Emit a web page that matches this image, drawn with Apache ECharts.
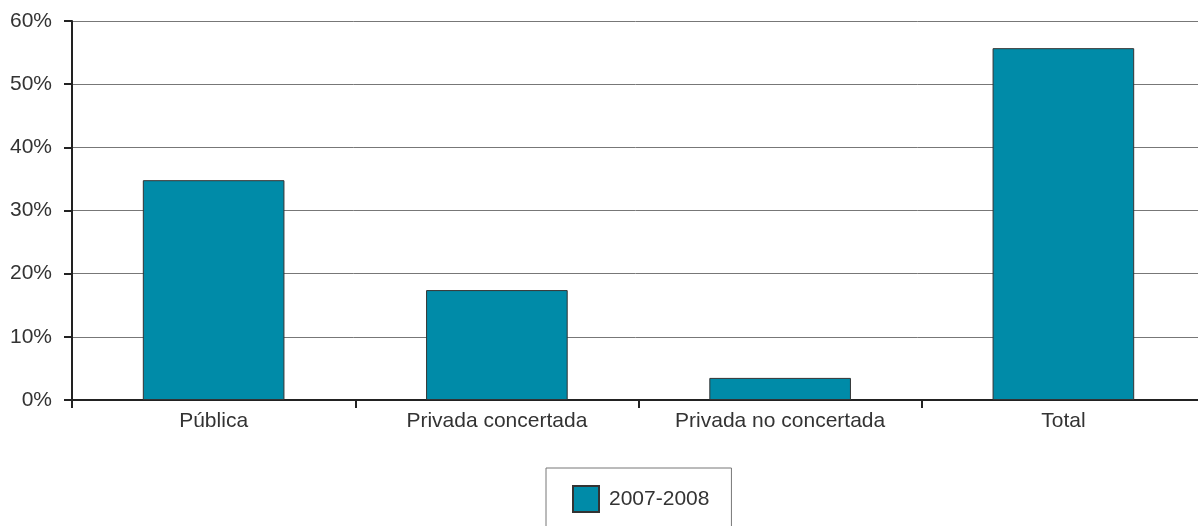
<!DOCTYPE html>
<html>
<head>
<meta charset="utf-8">
<script src="https://cdn.jsdelivr.net/npm/echarts@6/dist/echarts.min.js"></script>
<style>
html,body{margin:0;padding:0;background:#fff;}
#chart{width:1198px;height:526px;}
</style>
</head>
<body>
<div id="chart"></div>
<script>
const categories = ['Pública', 'Privada concertada', 'Privada no concertada', 'Total'];
const seriesName = '2007-2008';
const values = [34.8, 17.4, 3.5, 55.7];
const yTicks = [0, 10, 20, 30, 40, 50, 60];

const chart = echarts.init(document.getElementById('chart'), null, {renderer: 'canvas'});
const font = 'Liberation Sans, Helvetica, Arial, sans-serif';
chart.setOption({
  animation: false,
  textStyle: {fontFamily: font},
  grid: {left: 72, top: 21, width: 1133, height: 379, containLabel: false, outerBoundsMode: 'none'},
  legend: {
    data: [seriesName],
    left: 546, top: 468,
    padding: [17, 22, 30, 26],
    itemWidth: 26, itemHeight: 26, itemGap: 10,
    borderColor: '#777', borderWidth: 1,
    icon: 'rect',
    textStyle: {fontSize: 21, color: '#333', fontFamily: font, padding: [0, 0, 0, 5]}
  },
  xAxis: {
    type: 'category',
    data: categories,
    boundaryGap: true,
    axisLine: {lineStyle: {color: '#222', width: 2}},
    axisTick: {show: true, length: 8, lineStyle: {color: '#222', width: 2}},
    axisLabel: {fontSize: 21, color: '#333', margin: 11, fontFamily: font},
    splitLine: {show: false}
  },
  yAxis: {
    type: 'value',
    min: yTicks[0], max: yTicks[yTicks.length - 1], interval: 10,
    axisLine: {show: true, lineStyle: {color: '#222', width: 2}},
    axisTick: {show: true, length: 8, lineStyle: {color: '#222', width: 2}},
    axisLabel: {fontSize: 21, color: '#333', margin: 20, fontFamily: font, formatter: v => v + '%'},
    splitLine: {show: true, lineStyle: {color: '#777', width: 1}}
  },
  series: [{
    name: seriesName,
    type: 'bar',
    data: values,
    barWidth: '50%',
    itemStyle: {color: '#008BA8', borderColor: '#333', borderWidth: 1}
  }]
});
</script>
</body>
</html>
